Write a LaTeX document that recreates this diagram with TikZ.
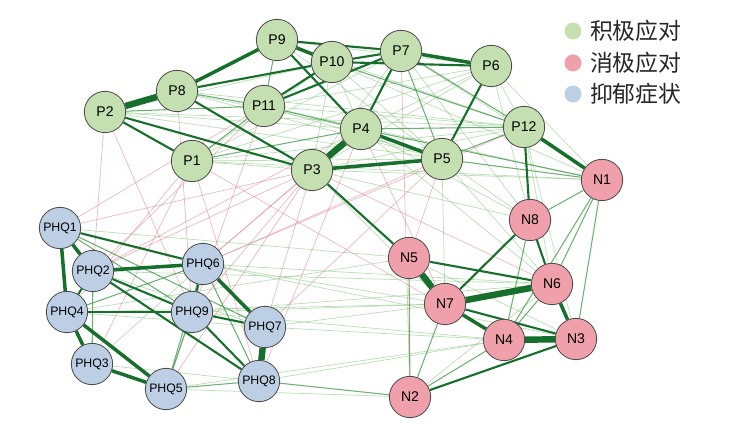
\documentclass[tikz,border=0pt]{standalone}
\usepackage{fontspec}
\setmainfont{Liberation Sans}
\newfontfamily\cjk{Noto Sans CJK SC}
\usetikzlibrary{backgrounds}
\definecolor{posfill}{RGB}{196,224,176}
\definecolor{negfill}{RGB}{240,160,170}
\definecolor{depfill}{RGB}{188,207,228}
\definecolor{dkgreen}{RGB}{22,112,44}
\definecolor{mdgreen}{RGB}{60,150,70}
\definecolor{ltgreen}{RGB}{130,195,120}
\definecolor{ltred}{RGB}{215,130,140}

\begin{document}
\begin{tikzpicture}[x=0.3mm, y=-0.3mm,
	vert/.style={circle, draw=black!70, line width=0.7pt, minimum size=12.4mm, inner sep=0pt, font=\fontsize{12}{12}\selectfont},
	posnode/.style={vert, fill=posfill},
	negnode/.style={vert, fill=negfill},
	depnode/.style={vert, fill=depfill, font=\fontsize{10.5}{10.5}\selectfont},
	w5/.style={draw=dkgreen, line width=5.5pt},
	w4/.style={draw=dkgreen, line width=3pt},
	w3/.style={draw=dkgreen, line width=1.8pt},
	w2/.style={draw=mdgreen, line width=0.9pt, opacity=0.75},
	w1/.style={draw=ltgreen, line width=0.6pt, opacity=0.55},
	r1/.style={draw=ltred, line width=0.6pt, opacity=0.55},
	legdot/.style={circle, inner sep=0pt, minimum size=5.1mm},
	legtext/.style={anchor=west, text=black!85, font=\cjk\fontsize{19.5}{20}\selectfont}]

\useasboundingbox (0, 0) rectangle (747, 425);

\foreach \name/\x/\y in {
	P1/192/161, P2/105/112, P3/312/170, P4/361/129, P5/442/159, P6/491/66,
	P7/401/51, P8/177/91, P9/277/40, P10/332/62, P11/264/106, P12/524/127}
\node[posnode] (\name) at (\x, \y) {\name};
\foreach \name/\x/\y in {
	N1/602/180, N2/410/397, N3/576/339, N4/504/340,
	N5/409/258, N6/552/284, N7/445/304, N8/530/220}
\node[negnode] (\name) at (\x, \y) {\name};
\foreach \name/\x/\y in {
	PHQ1/60/228, PHQ2/93/271, PHQ3/92/364, PHQ4/67/312, PHQ5/166/389,
	PHQ6/203/264, PHQ7/265/327, PHQ8/259/381, PHQ9/192/312}
\node[depnode] (\name) at (\x, \y) {\name};

\begin{pgfonlayer}{background}
% faint red
\foreach \a/\b in {PHQ1/P11, PHQ6/P5, PHQ6/P3, PHQ2/P3, PHQ9/P8, PHQ4/P1, PHQ7/P3,
	PHQ8/P4, PHQ2/P4, P7/N2, P3/N6, PHQ1/P3, PHQ5/P11, PHQ3/P1, PHQ9/P2,
	PHQ6/P12, PHQ7/P5, P1/N4, P2/PHQ2, PHQ9/P3, PHQ6/P4, PHQ5/P3, PHQ2/P11,
	PHQ8/P1, P5/N5, P4/N7}
\draw[r1] (\a) -- (\b);
% faint green
\foreach \a/\b in {P1/P5, P1/P12, P2/P4, P2/P10, P3/N8, P3/N1, P5/N8, P5/N6, P5/N7,
	P11/N1, P4/N6, P6/N1, P6/P12, P7/N8, P10/P5, P9/P12, P8/P12, P1/P3,
	P1/P10, P1/P7, P1/P6, P3/P12, P3/P10, P3/P7, P3/P6, P11/P12, P11/P5, P11/P6,
	P4/P6, P4/P10, P8/P4, P8/P5, P2/P5, P2/P12, P9/P5, P9/P6, P1/N1, P3/N7,
	P4/N8, P6/N8, P12/N6, P12/N3, P10/N1, P7/N1,
	PHQ6/N7, PHQ6/N6, PHQ9/N7, PHQ4/N5, PHQ7/N7, PHQ5/N2, PHQ9/N4, PHQ6/N3,
	PHQ2/N6, PHQ7/N4, PHQ3/PHQ8, PHQ3/PHQ6, PHQ1/N5, PHQ8/N4, PHQ4/PHQ7,
	N5/N3, N2/N6, PHQ2/PHQ7, PHQ4/N7, PHQ9/N6, PHQ5/N4}
\draw[w1] (\a) -- (\b);
\foreach \a/\b in {P1/P11, P10/P12, P7/P12, P4/P12, P9/P11, P5/N1, P4/N1, P12/P5,
	N1/N3, N1/N8, N1/N4, N1/N6, N6/N4, N8/N4, N2/N5, N2/N4, N2/N7, PHQ8/N2,
	PHQ9/PHQ5, PHQ5/PHQ8, PHQ2/PHQ3, PHQ4/PHQ6, PHQ1/PHQ9, PHQ1/PHQ7,
	PHQ6/PHQ5, PHQ6/PHQ8, P11/P4, P8/P11, P1/P4, P2/P11, P7/P5}
\draw[w2] (\a) -- (\b);
% strong green
\foreach \a/\b in {P9/P7, P9/P4, P8/P10, P2/P1, P2/P3, P11/P10, P11/P7, P10/P7,
	P6/P5, P12/N8, P3/N5, N7/N8, N8/N6, N7/N3, N5/N6, N2/N3, P8/P3, P10/P6, P4/P7,
	PHQ1/PHQ6, PHQ2/PHQ4, PHQ2/PHQ9, PHQ2/PHQ8, PHQ4/PHQ9, PHQ6/PHQ9,
	PHQ9/PHQ7, PHQ9/PHQ8}
\draw[w3] (\a) -- (\b);
\foreach \a/\b in {P8/P9, P9/P10, P7/P6, P3/P5, P4/P5, P12/N1, N7/N4, N6/N3,
	PHQ1/PHQ4, PHQ1/PHQ2, PHQ2/PHQ6, PHQ4/PHQ3, PHQ4/PHQ5, PHQ3/PHQ5, PHQ6/PHQ7}
\draw[w4] (\a) -- (\b);
\foreach \a/\b in {P2/P8, P3/P4, N5/N7, N7/N6, N4/N3, PHQ7/PHQ8}
\draw[w5] (\a) -- (\b);
\end{pgfonlayer}

% legend
\node[legdot, fill=posfill] (legpos) at (573, 31) {};
\node[legdot, fill=negfill] (legneg) at (573, 63) {};
\node[legdot, fill=depfill] (legdep) at (573, 94) {};
\node[legtext] at (586, 31) {积极应对};
\node[legtext] at (586, 63) {消极应对};
\node[legtext] at (586, 94) {抑郁症状};

\end{tikzpicture}
\end{document}
